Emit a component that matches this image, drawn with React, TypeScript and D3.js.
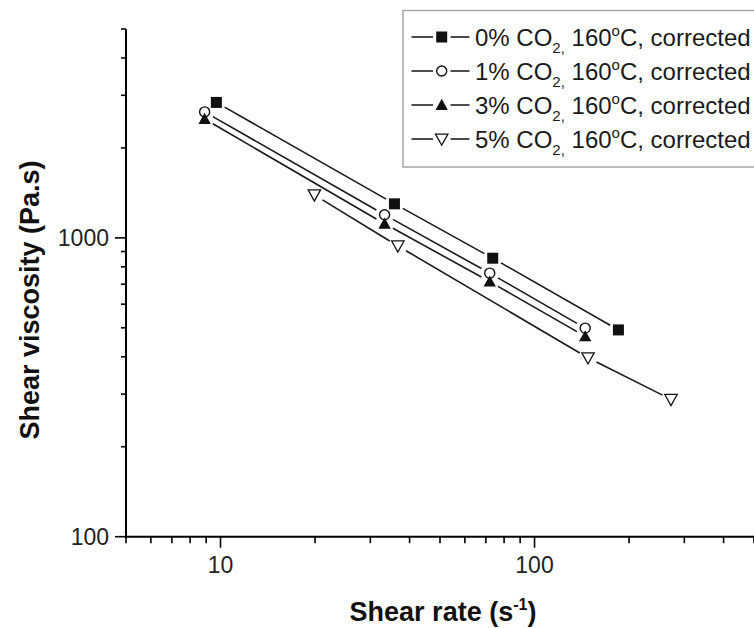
import React from "react";
import * as d3 from "d3";

// Shear rate (1/s) and shear viscosity (Pa.s) for each CO2 content
const shearRate0 = [9.7, 35.8, 73.6, 185];
const viscosity0 = [2840, 1300, 855, 492];
const shearRate1 = [8.9, 33.3, 72, 145];
const viscosity1 = [2640, 1195, 762, 499];
const shearRate3 = [8.9, 33.3, 72, 145];
const viscosity3 = [2500, 1115, 714, 468];
const shearRate5 = [19.9, 36.7, 148, 272];
const viscosity5 = [1393, 940, 397, 288];

const seriesLabels = ["0%", "1%", "3%", "5%"];
const markerKinds = ["square", "circle", "triangleUp", "triangleDown"];

const xTickLabels = ["10", "100"];
const yTickLabels = ["100", "1000"];

const W = 754;
const H = 628;
const FONT = "'Liberation Sans', Arial, Helvetica, sans-serif";

const x = d3.scaleLog().domain([5, 500]).range([126, 754]);
const y = d3.scaleLog().domain([100, 5000]).range([536.7, 29]);

const series = [
  { rates: shearRate0, visc: viscosity0 },
  { rates: shearRate1, visc: viscosity1 },
  { rates: shearRate3, visc: viscosity3 },
  { rates: shearRate5, visc: viscosity5 },
];

function Marker({ kind, cx, cy }: { kind: string; cx: number; cy: number }) {
  const ink = "#111";
  if (kind === "square") {
    return <rect x={cx - 5.5} y={cy - 5.5} width={11} height={11} fill={ink} />;
  }
  if (kind === "circle") {
    return <circle cx={cx} cy={cy} r={5} fill="#fff" stroke={ink} strokeWidth={1.4} />;
  }
  if (kind === "triangleUp") {
    const s = 6.2;
    return (
      <path
        d={`M${cx},${cy - s} L${cx + s},${cy + s * 0.8} L${cx - s},${cy + s * 0.8} Z`}
        fill={ink}
      />
    );
  }
  const s = 6.2;
  return (
    <path
      d={`M${cx - s},${cy - s * 0.8} L${cx + s},${cy - s * 0.8} L${cx},${cy + s} Z`}
      fill="#fff"
      stroke={ink}
      strokeWidth={1.3}
    />
  );
}

// Segments between successive points, pulled back from each marker
function trimmedSegments(pts: [number, number][], gap: number) {
  const segs: string[] = [];
  for (let i = 0; i < pts.length - 1; i++) {
    const [x1, y1] = pts[i];
    const [x2, y2] = pts[i + 1];
    const len = Math.hypot(x2 - x1, y2 - y1);
    const ux = (x2 - x1) / len;
    const uy = (y2 - y1) / len;
    segs.push(
      `M${x1 + ux * gap},${y1 + uy * gap} L${x2 - ux * gap},${y2 - uy * gap}`
    );
  }
  return segs;
}

export default function App() {
  const xTicks = x.ticks();
  const yTicks = y.ticks();
  const isMajor = (v: number) => Math.abs(Math.log10(v) - Math.round(Math.log10(v))) < 1e-9;
  const x0 = x.range()[0];
  const y0 = y.range()[0];

  const legendTop = 10.5;
  const legendLeft = 403;
  const rowY = (i: number) => 37 + i * 34;

  return (
    <svg
      width={W}
      height={H}
      style={{ position: "absolute", left: 0, top: 0, background: "#fff" }}
      fontFamily={FONT}
    >
      <rect x={0} y={0} width={W} height={H} fill="#fff" />

      {/* data lines */}
      {series.map((s, si) => {
        const pts = s.rates.map((r, i) => [x(r), y(s.visc[i])] as [number, number]);
        return (
          <g key={`l${si}`}>
            {trimmedSegments(pts, 9.5).map((d, k) => (
              <path key={k} d={d} stroke="#1a1a1a" strokeWidth={1.6} fill="none" />
            ))}
          </g>
        );
      })}

      {/* markers */}
      {series.map((s, si) => (
        <g key={`m${si}`}>
          {s.rates.map((r, i) => (
            <Marker key={i} kind={markerKinds[si]} cx={x(r)} cy={y(s.visc[i])} />
          ))}
        </g>
      ))}

      {/* x axis */}
      <line x1={x0 - 1} x2={W} y1={y0} y2={y0} stroke="#000" strokeWidth={2} />
      {xTicks.map((t, i) => (
        <line
          key={`xt${i}`}
          x1={x(t)}
          x2={x(t)}
          y1={y0}
          y2={y0 + (isMajor(t) ? 11 : 6.5)}
          stroke="#000"
          strokeWidth={1.6}
        />
      ))}
      {xTickLabels.map((lab) => (
        <text
          key={`xl${lab}`}
          x={x(+lab)}
          y={573}
          textAnchor="middle"
          fontSize={23}
          fill="#222"
        >
          {lab}
        </text>
      ))}

      {/* y axis */}
      <line x1={x0} x2={x0} y1={y.range()[1]} y2={y0 + 1} stroke="#000" strokeWidth={2} />
      {yTicks.map((t, i) => (
        <line
          key={`yt${i}`}
          x1={x0}
          x2={x0 - (isMajor(t) ? 11 : 5)}
          y1={y(t)}
          y2={y(t)}
          stroke="#000"
          strokeWidth={1.6}
        />
      ))}
      {yTickLabels.map((lab) => (
        <text
          key={`yl${lab}`}
          x={109}
          y={y(+lab) + 8.3}
          textAnchor="end"
          fontSize={23}
          fill="#222"
        >
          {lab}
        </text>
      ))}

      {/* axis titles */}
      <text x={443} y={621} textAnchor="middle" fontSize={27} fontWeight="bold" fill="#111">
        Shear rate (s
        <tspan fontSize={16} dy={-11}>-1</tspan>
        <tspan dy={11}>)</tspan>
      </text>
      <text
        transform={`translate(39,300) rotate(-90)`}
        textAnchor="middle"
        fontSize={27}
        fontWeight="bold"
        fill="#111"
      >
        Shear viscosity (Pa.s)
      </text>

      {/* legend */}
      <rect
        x={legendLeft}
        y={legendTop}
        width={W - legendLeft + 20}
        height={167 - legendTop}
        fill="#fff"
        stroke="#a8a8a8"
        strokeWidth={1.5}
      />
      {seriesLabels.map((lab, i) => {
        const cy = rowY(i);
        return (
          <g key={`lg${i}`}>
            <line x1={411.5} x2={433} y1={cy} y2={cy} stroke="#111" strokeWidth={1.5} />
            <line x1={450.5} x2={469.5} y1={cy} y2={cy} stroke="#111" strokeWidth={1.5} />
            <Marker kind={markerKinds[i]} cx={441.7} cy={cy} />
            <text x={475} y={cy + 8.5} fontSize={24} fill="#1a1a1a">
              {lab} CO
              <tspan fontSize={15} dy={7}>2,</tspan>
              <tspan dy={-7}> 160</tspan>
              <tspan fontSize={15} dy={-10}>o</tspan>
              <tspan dy={10}>C, corrected</tspan>
            </text>
          </g>
        );
      })}
    </svg>
  );
}
